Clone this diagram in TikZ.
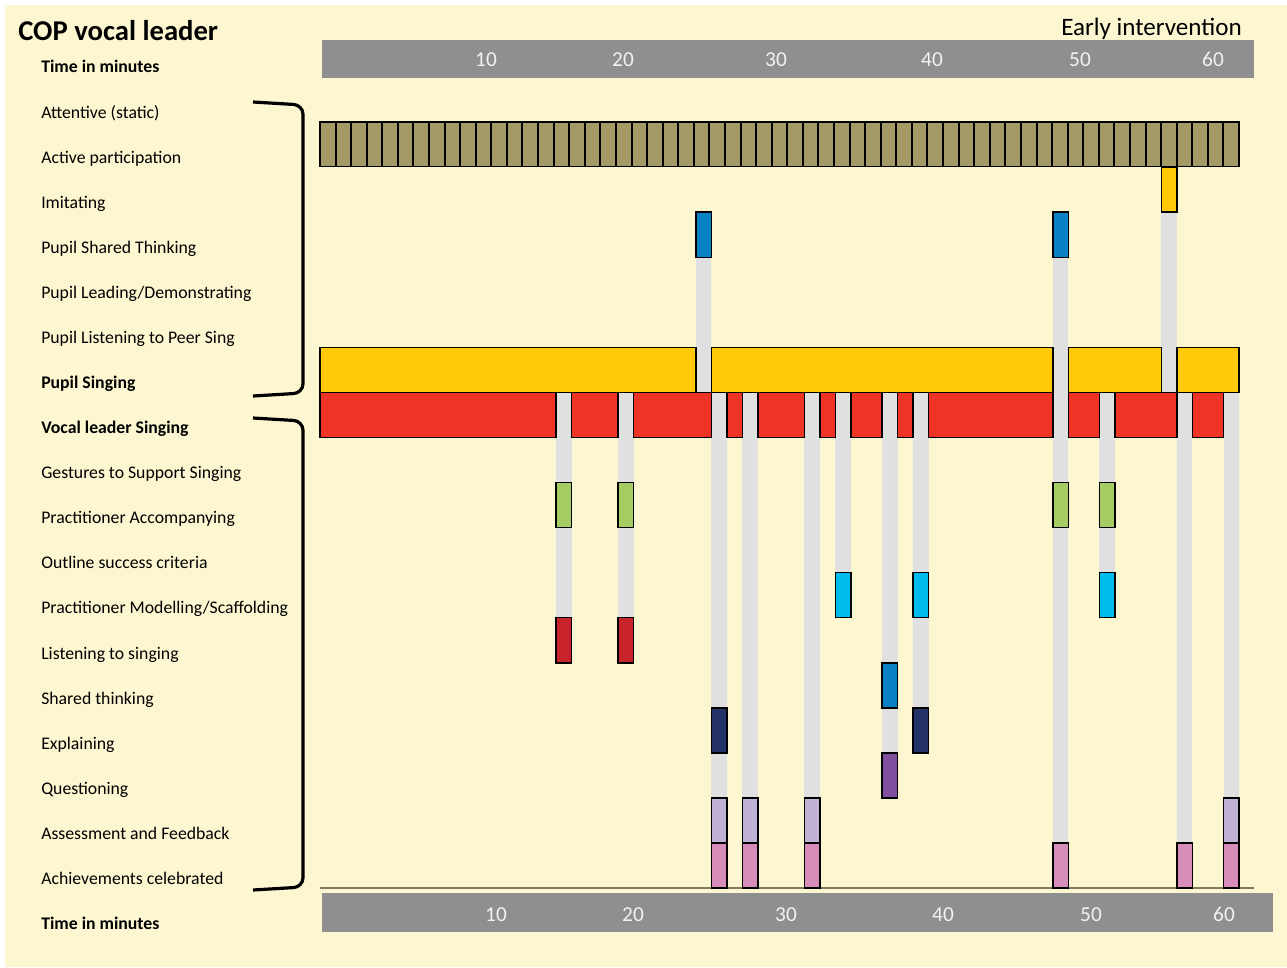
\documentclass[tikz,border=0pt]{standalone}
\usepackage{fontspec}
\setmainfont{Carlito}
\definecolor{paper}{RGB}{252,247,208}
\definecolor{khaki}{RGB}{164,154,103}
\definecolor{sing}{RGB}{255,201,8}
\definecolor{lead}{RGB}{238,53,37}
\definecolor{stripe}{RGB}{224,224,224}
\definecolor{accomp}{RGB}{165,205,98}
\definecolor{think}{RGB}{8,130,196}
\definecolor{model}{RGB}{0,188,238}
\definecolor{listen}{RGB}{200,35,43}
\definecolor{explain}{RGB}{35,50,105}
\definecolor{quest}{RGB}{128,80,158}
\definecolor{assess}{RGB}{192,178,212}
\definecolor{celeb}{RGB}{214,141,185}
\definecolor{axisbar}{RGB}{143,143,143}
\definecolor{axisnum}{RGB}{242,242,242}
\definecolor{axisline}{RGB}{128,123,94}

% column and row geometry (pixel units)
\newcommand\colx[2]{\pgfmathsetmacro#1{307.8+15.52*(#2)}}
\newcommand\rowy[2]{\pgfmathsetmacro#1{77+45.06*(#2)}}

% one coloured block: column, row, colour
\newcommand\blk[3]{%
  \colx\xa{#1}\colx\xb{#1+1}\rowy\ya{#2}\rowy\yb{#2+1}%
  \draw[block,fill=#3] (\xa,\ya) rectangle (\xb,\yb);}
% a bar spanning columns: from, to, row, colour
\newcommand\runbar[4]{%
  \colx\xa{#1}\colx\xb{#2}\rowy\ya{#3}\rowy\yb{#3+1}%
  \draw[block,fill=#4] (\xa,\ya) rectangle (\xb,\yb);}
% grey guide stripe: column, first row, last row
\newcommand\guide[3]{%
  \colx\xa{#1}\colx\xb{#1+1}\rowy\ya{#2}\rowy\yb{#3}%
  \fill[stripe] (\xa,\ya) rectangle (\xb,\yb);}

\begin{document}
\begin{tikzpicture}[x=0.75pt,y=-0.75pt,
  block/.style={draw=black,line width=1.1pt},
  lbl/.style={anchor=base west,inner sep=0pt,font=\fontsize{13.3}{15}\selectfont},
  blbl/.style={lbl,font=\fontsize{13.3}{15}\selectfont\bfseries},
  tick/.style={anchor=base,inner sep=0pt,text=axisnum,font=\fontsize{16}{18}\selectfont},
  brace/.style={line width=2.4pt,rounded corners=7pt}]
\useasboundingbox (0,0) rectangle (1287,967);
\fill[white] (0,0) rectangle (1287,967);
\fill[paper] (5,5) rectangle (1287,967);

% headings
\node[anchor=base west,inner sep=0pt,font=\fontsize{21.5}{25}\selectfont\bfseries] (title) at (18,40.7) {COP vocal leader};
\node[anchor=base west,inner sep=0pt,font=\fontsize{18.8}{22}\selectfont] (phase) at (1061,36) {Early intervention};
\node[blbl] (ttop) at (41,72.7) {Time in minutes};
\node[blbl] (tbot) at (41,929) {Time in minutes};

% time axes
\fill[axisbar] (322,40) rectangle (1254,78);
\fill[axisbar] (322,893) rectangle (1273,932);
\foreach \v/\x in {10/486,20/623,30/776,40/932,50/1080,60/1213}
  \node[tick] (top\v) at (\x,66.7) {\v};
\foreach \v/\x in {10/496,20/633,30/786,40/943,50/1091,60/1224}
  \node[tick] (bot\v) at (\x,921.3) {\v};
\draw[axisline,line width=1.4pt] (320,888) -- (1254,888);

% row labels
\foreach \t [count=\i from 0] in {Attentive (static),Active participation,Imitating,
  Pupil Shared Thinking,Pupil Leading/Demonstrating,Pupil Listening to Peer Sing}
  \node[lbl] (row\i) at (41,{118.3+45.06*\i}) {\t};
\node[blbl] (row6) at (41,{118.3+45.06*6}) {Pupil Singing};
\node[blbl] (row7) at (41,{118.3+45.06*7}) {Vocal leader Singing};
\foreach \t [count=\i from 8] in {Gestures to Support Singing,Practitioner Accompanying,
  Outline success criteria,Practitioner Modelling/Scaffolding,Listening to singing,
  Shared thinking,Explaining,Questioning,Assessment and Feedback,Achievements celebrated}
  \node[lbl] (row\i) at (41,{118.3+45.06*\i}) {\t};

% group brackets
\draw[brace] (253,102) -- (303,105) -- (303,393) -- (253,396);
\draw[brace] (253,418) -- (303,421) -- (303,887) -- (253,890);

% grey guide stripes
\guide{16}{7}{12}
\guide{20}{7}{12}
\guide{25}{3}{7}
\guide{26}{7}{16}
\guide{28}{7}{16}
\guide{32}{7}{16}
\guide{34}{7}{11}
\guide{37}{7}{15}
\guide{39}{7}{14}
\guide{48}{3}{17}
\guide{51}{7}{11}
\guide{55}{3}{7}
\guide{56}{7}{17}
\guide{59}{7}{16}

% active participation: one cell per minute
\fill[khaki] (320,122) rectangle (1239,166.6);
\foreach \k in {1,...,58}
  \draw[line width=1.1pt] ({round(320+919/59*\k)},122) -- ({round(320+919/59*\k)},166.6);
\draw[block] (320,122) rectangle (1239,166.6);

% pupil singing
\runbar{0.786}{25}{6}{sing}
\runbar{26}{48}{6}{sing}
\runbar{49}{55}{6}{sing}
\runbar{56}{60}{6}{sing}

% vocal leader singing
\foreach \a/\b in {0.786/16,17/20,21/26,27/28,29/32,33/34,35/37,38/39,40/48,49/51,52/56,57/59}
  {\runbar{\a}{\b}{7}{lead}}

% single activities
\blk{55}{2}{sing}
\blk{25}{3}{think}
\blk{48}{3}{think}
\foreach \c in {16,20,48,51} {\blk{\c}{9}{accomp}}
\foreach \c in {34,39,51} {\blk{\c}{11}{model}}
\foreach \c in {16,20} {\blk{\c}{12}{listen}}
\blk{37}{13}{think}
\foreach \c in {26,39} {\blk{\c}{14}{explain}}
\blk{37}{15}{quest}
\foreach \c in {26,28,32,59} {\blk{\c}{16}{assess}}
\foreach \c in {26,28,32,48,56,59} {\blk{\c}{17}{celeb}}
\end{tikzpicture}
\end{document}
